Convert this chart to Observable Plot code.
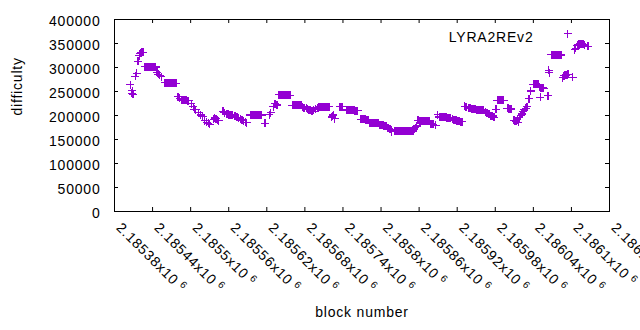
<!DOCTYPE html>
<html>
<head>
<meta charset="utf-8">
<script src="https://cdn.jsdelivr.net/npm/d3@7"></script>
<script src="https://cdn.jsdelivr.net/npm/@observablehq/plot@0.6"></script>
<style>
  body { margin: 0; background: #fff; }
</style>
</head>
<body>
<div id="chart"></div>
<script>
// [block number, difficulty]
const points = [
  [2185405,264000],[2185407,246000],[2185408,252000],[2185409,244000],
  [2185413,282000],[2185415,288000],[2185417,313000],[2185419,325000],
  [2185420,329000],[2185421,331000],[2185422,331000],[2185423,332000],[2185424,332000],[2185425,332000],
  [2185428,302000],[2185429,302000],[2185430,302000],[2185431,302000],[2185432,302000],[2185433,302000],
  [2185434,302000],[2185435,302000],[2185436,302000],[2185437,302000],[2185438,302000],[2185439,302000],
  [2185440,301000],[2185441,301000],[2185442,301000],[2185443,301000],[2185444,301000],[2185445,301000],
  [2185447,290000],[2185449,286000],[2185451,284000],[2185454,281000],
  [2185459,268000],[2185460,268000],[2185461,268000],[2185462,268000],[2185463,268000],[2185464,268000],
  [2185465,268000],[2185466,268000],[2185467,268000],[2185468,268000],[2185469,267000],[2185470,267000],
  [2185471,267000],[2185472,267000],[2185473,267000],[2185474,267000],[2185475,267000],[2185476,267000],[2185477,267000],
  [2185480,239000],[2185483,236000],
  [2185485,233000],[2185486,233000],[2185487,233000],[2185488,233000],[2185489,232000],[2185490,232000],
  [2185491,232000],[2185492,232000],[2185493,232000],[2185494,232000],[2185495,231000],[2185496,231000],[2185497,231000],
  [2185501,225000],[2185504,218000],[2185506,213000],[2185508,212000],
  [2185512,206000],[2185516,201000],[2185519,198000],[2185522,189000],[2185525,186000],
  [2185528,184000],[2185530,182000],
  [2185536,192000],[2185538,195000],[2185540,193000],[2185542,190000],[2185544,189000],
  [2185551,209000],[2185553,206000],
  [2185556,204000],[2185557,204000],[2185558,203000],[2185559,203000],[2185560,202000],[2185561,202000],
  [2185562,202000],[2185563,202000],[2185564,201000],[2185565,201000],[2185566,201000],
  [2185570,198000],[2185573,196000],[2185575,195000],[2185578,193000],[2185581,191000],
  [2185583,189000],[2185586,186000],[2185588,185000],
  [2185594,201000],[2185595,201000],[2185596,201000],[2185597,201000],[2185598,201000],[2185599,201000],
  [2185600,201000],[2185601,201000],[2185602,201000],[2185603,201000],[2185604,201000],[2185605,201000],
  [2185606,201000],[2185607,201000],[2185608,201000],[2185609,201000],[2185610,201000],[2185611,201000],[2185612,201000],
  [2185617,184000],
  [2185624,202000],[2185626,206000],[2185630,218000],[2185633,225000],[2185636,222000],
  [2185639,243000],[2185640,243000],[2185641,243000],[2185642,243000],[2185643,243000],[2185644,243000],
  [2185645,243000],[2185646,243000],[2185647,242000],[2185648,242000],[2185649,242000],[2185650,242000],
  [2185651,242000],[2185652,242000],[2185653,242000],[2185654,242000],[2185655,242000],[2185656,242000],[2185657,242000],
  [2185660,221000],[2185661,221000],[2185662,221000],[2185663,221000],[2185664,221000],[2185665,221000],
  [2185666,221000],[2185667,221000],[2185668,221000],[2185669,221000],[2185670,221000],[2185671,221000],
  [2185672,221000],[2185673,221000],[2185674,221000],
  [2185676,218000],[2185678,216000],[2185680,215000],[2185682,215000],[2185684,213000],
  [2185686,212000],[2185688,211000],[2185690,210000],[2185692,209000],[2185694,212000],
  [2185697,214000],
  [2185700,216000],[2185701,216000],[2185702,217000],[2185703,217000],[2185704,218000],[2185705,218000],
  [2185706,218000],[2185707,218000],[2185708,218000],[2185709,218000],[2185710,218000],[2185711,218000],
  [2185712,218000],[2185713,218000],[2185714,218000],[2185715,218000],[2185716,218000],[2185717,218000],[2185718,218000],
  [2185722,196000],[2185723,198000],[2185724,200000],[2185725,202000],[2185727,193000],
  [2185735,218000],[2185736,218000],[2185737,218000],[2185738,218000],[2185739,218000],
  [2185745,212000],[2185746,212000],[2185747,211000],[2185748,211000],[2185749,211000],[2185750,211000],
  [2185751,211000],[2185752,211000],[2185753,211000],[2185754,211000],[2185755,211000],[2185756,211000],
  [2185757,211000],[2185758,211000],[2185759,210000],[2185760,210000],[2185761,210000],[2185762,210000],[2185763,210000],
  [2185768,192000],[2185769,192000],[2185770,192000],[2185771,192000],[2185772,192000],[2185773,192000],
  [2185774,192000],[2185775,192000],[2185776,191000],[2185777,191000],[2185778,191000],[2185779,191000],[2185780,191000],
  [2185782,185000],[2185783,185000],[2185784,185000],[2185785,185000],[2185786,185000],[2185787,185000],
  [2185788,185000],[2185789,185000],[2185790,184000],[2185791,184000],[2185792,184000],[2185793,184000],
  [2185794,184000],[2185795,184000],[2185796,184000],
  [2185798,180000],[2185799,180000],[2185800,180000],[2185801,180000],[2185802,180000],[2185803,180000],
  [2185804,179000],[2185805,179000],[2185806,179000],[2185807,179000],[2185808,179000],
  [2185811,174000],[2185813,172000],[2185815,171000],[2185816,166000],[2185817,170000],
  [2185821,167000],[2185822,167000],[2185823,167000],[2185824,167000],[2185825,167000],[2185826,167000],
  [2185827,167000],[2185828,167000],[2185829,167000],[2185830,167000],[2185831,167000],[2185832,167000],
  [2185833,167000],[2185834,167000],[2185835,167000],[2185836,167000],[2185837,167000],[2185838,167000],
  [2185839,167000],[2185840,167000],[2185841,167000],[2185842,167000],[2185843,167000],[2185844,167000],
  [2185845,167000],[2185846,167000],[2185847,167000],[2185848,167000],[2185849,167000],[2185851,167000],
  [2185850,170000],[2185852,172000],[2185854,175000],[2185856,178000],
  [2185858,190000],[2185859,190000],[2185860,189000],[2185861,189000],[2185862,189000],[2185863,189000],
  [2185864,189000],[2185865,189000],[2185866,189000],[2185867,189000],[2185868,189000],[2185869,189000],
  [2185870,188000],[2185871,188000],[2185872,188000],[2185873,188000],[2185874,188000],[2185875,188000],[2185876,188000],
  [2185878,183000],[2185879,183000],[2185880,182000],[2185881,182000],[2185882,182000],[2185886,180000],
  [2185889,202000],
  [2185892,197000],[2185893,197000],[2185894,196000],[2185895,196000],[2185896,196000],[2185897,196000],
  [2185898,196000],[2185899,196000],[2185900,196000],[2185901,196000],[2185902,196000],[2185903,196000],
  [2185904,195000],[2185905,195000],[2185906,195000],[2185907,195000],[2185908,195000],[2185909,195000],[2185910,195000],
  [2185912,192000],[2185914,191000],[2185916,190000],[2185918,190000],[2185919,189000],[2185920,189000],
  [2185921,188000],[2185922,188000],[2185923,188000],[2185924,188000],[2185925,187000],[2185926,187000],
  [2185927,187000],[2185928,187000],
  [2185932,219000],[2185934,218000],
  [2185938,216000],[2185939,216000],[2185940,215000],[2185941,215000],[2185942,214000],[2185943,214000],
  [2185944,214000],[2185945,214000],[2185946,213000],[2185947,213000],[2185948,213000],[2185949,213000],
  [2185950,212000],[2185951,212000],[2185952,212000],[2185953,212000],[2185954,212000],[2185955,212000],
  [2185956,212000],[2185957,212000],[2185958,211000],[2185959,211000],[2185960,211000],[2185961,211000],[2185962,211000],
  [2185964,208000],[2185966,206000],[2185967,206000],[2185968,205000],[2185970,203000],[2185972,200000],
  [2185973,200000],[2185974,199000],[2185975,199000],[2185976,199000],[2185978,196000],[2185981,213000],
  [2185983,232000],[2185984,232000],[2185985,232000],[2185986,232000],[2185987,232000],[2185988,232000],
  [2185989,232000],[2185990,232000],[2185991,232000],[2185992,232000],[2185993,232000],
  [2185999,215000],[2186000,215000],[2186001,214000],[2186002,214000],[2186003,214000],[2186004,214000],[2186005,213000],
  [2186009,190000],[2186010,190000],[2186011,189000],[2186012,189000],[2186013,188000],[2186015,191000],[2186016,186000],
  [2186018,196000],[2186020,200000],[2186022,203000],[2186024,208000],[2186026,212000],
  [2186028,215000],[2186030,218000],[2186033,235000],[2186036,251000],
  [2186040,265000],[2186041,265000],[2186042,265000],[2186043,265000],[2186044,265000],[2186045,265000],
  [2186046,265000],[2186047,265000],[2186048,265000],
  [2186050,259000],[2186051,238000],[2186052,258000],[2186053,258000],[2186054,258000],[2186055,258000],[2186056,257000],
  [2186063,241000],[2186064,294000],[2186065,289000],
  [2186068,327000],[2186069,327000],[2186070,327000],[2186071,327000],[2186072,327000],[2186073,327000],
  [2186074,327000],[2186075,327000],[2186076,327000],[2186077,327000],[2186078,326000],[2186079,326000],
  [2186080,326000],[2186081,326000],[2186082,326000],[2186083,326000],[2186084,326000],
  [2186086,279000],[2186088,283000],[2186089,283000],[2186090,284000],[2186091,284000],[2186092,285000],
  [2186093,285000],[2186094,286000],[2186095,286000],[2186096,286000],[2186102,280000],
  [2186105,337000],[2186107,340000],
  [2186109,346000],[2186110,347000],[2186111,348000],[2186112,348000],[2186113,349000],[2186114,349000],
  [2186115,349000],[2186116,349000],[2186117,349000],[2186118,348000],[2186119,348000],[2186120,347000],
  [2186121,347000],[2186126,344000]
];

const xTicks = [2185380,2185440,2185500,2185560,2185620,2185680,2185740,
                2185800,2185860,2185920,2185980,2186040,2186100,2186160];
const xTickMantissa = ["2.18538","2.18544","2.1855","2.18556","2.18562","2.18568","2.18574",
                       "2.1858","2.18586","2.18592","2.18598","2.18604","2.1861","2.18616"];
const yTicks = [0,50000,100000,150000,200000,250000,300000,350000,400000];
const seriesName = "LYRA2REv2";
const xTitle = "block number";
const yTitle = "difficulty";
const color = "#9400d3";

const plus = {
  draw(ctx, size) {
    const r = Math.sqrt(size / Math.PI);
    ctx.moveTo(-r, 0); ctx.lineTo(r, 0);
    ctx.moveTo(0, -r); ctx.lineTo(0, r);
  }
};

const W = 640, H = 330, mt = 19, mr = 31, mb = 119, ml = 114;
const fw = W - ml - mr, fh = H - mt - mb, tk = 4;

const chart = Plot.plot({
  width: W, height: H,
  marginTop: mt, marginRight: mr, marginBottom: mb, marginLeft: ml,
  style: "font-family:'Liberation Sans',Arial,sans-serif;font-size:14px;letter-spacing:0.8px;background:#fff;overflow:visible;color:#000",
  x: {domain: [2185380, 2186160], axis: null},
  y: {domain: [0, 400000], axis: null},
  marks: [
    Plot.dot(points, {x: d => d[0], y: d => d[1], symbol: plus, r: 4, stroke: color, strokeWidth: 1.2, shapeRendering: "crispEdges"}),
    Plot.frame({stroke: "#000", strokeWidth: 1}),
    // inward ticks
    Plot.tickY(yTicks, {y: d => d, insetRight: fw - tk, stroke: "#000"}),
    Plot.tickY(yTicks, {y: d => d, insetLeft: fw - tk, stroke: "#000"}),
    Plot.tickX(xTicks, {x: d => d, insetTop: fh - tk, stroke: "#000"}),
    Plot.tickX(xTicks, {x: d => d, insetBottom: fh - tk, stroke: "#000"}),
    // y tick labels
    Plot.text(yTicks, {y: d => d, frameAnchor: "left", text: d => String(d), textAnchor: "end", dx: -14, dy: 2, fill: "#000"}),
    // x tick labels (rotated)
    Plot.text(xTicks, {x: d => d, frameAnchor: "bottom", text: (d, i) => xTickMantissa[i] + "x10", rotate: 45, textAnchor: "start", dx: 1, dy: 17, fill: "#000", className: "xlab"}),
    // titles
    Plot.text([yTitle], {frameAnchor: "left", text: d => d, rotate: -90, dx: -97, fill: "#000"}),
    Plot.text([xTitle], {frameAnchor: "bottom", text: d => d, dy: 105, fill: "#000"}),
    // legend
    Plot.text([seriesName], {frameAnchor: "top-right", text: d => d, textAnchor: "end", dx: -76, dy: 13, fill: "#000"}),
    Plot.dot([seriesName], {frameAnchor: "top-right", dx: -42, dy: 14, symbol: plus, r: 4, stroke: color, strokeWidth: 1.2, shapeRendering: "crispEdges"})
  ]
});

// superscript exponent on x tick labels
d3.select(chart).selectAll(".xlab text").each(function() {
  const t = d3.select(this);
  t.append("tspan").attr("dx", 4).attr("dy", -5).attr("font-size", 10).text("6");
});

document.getElementById("chart").appendChild(chart);
</script>
</body>
</html>
